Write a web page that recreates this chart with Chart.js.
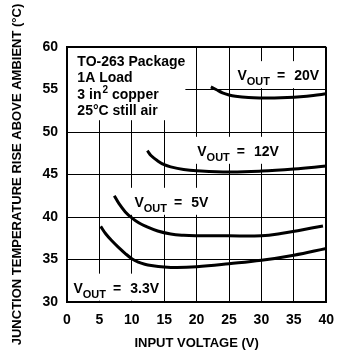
<!DOCTYPE html>
<html>
<head>
<meta charset="utf-8">
<script src="https://cdn.jsdelivr.net/npm/chart.js@4.4.0/dist/chart.umd.min.js"></script>
<style>
  body { margin: 0; background: #fff; }
  #wrap { width: 344px; height: 355px; }
</style>
</head>
<body>
<div id="wrap"><canvas id="tempChart"></canvas></div>
<script>
// temperature rise vs input voltage, one curve per output voltage
const vin20 = [22.2, 23, 24, 25, 26, 28, 30, 32, 34, 36, 38, 40];
const temp20 = [55.3, 55.0, 54.6, 54.35, 54.2, 54.05, 54.0, 54.0, 54.05, 54.15, 54.3, 54.5];

const vin12 = [12.4, 13, 14, 15, 16, 18, 20, 25, 30, 35, 40];
const temp12 = [47.8, 47.2, 46.6, 46.15, 45.9, 45.6, 45.45, 45.3, 45.4, 45.65, 46.0];

const vin5 = [7.3, 8, 9, 10, 11, 12, 14, 16, 18, 20, 25, 30, 33, 36, 39.5];
const temp5 = [42.5, 41.6, 40.6, 39.9, 39.35, 38.95, 38.35, 38.0, 37.85, 37.8, 37.78, 37.8, 38.05, 38.45, 38.95];

const vin33 = [5.2, 6, 7, 8, 9, 10, 11, 12, 13, 15, 17, 20, 25, 30, 35, 40];
const temp33 = [38.9, 38.0, 37.15, 36.4, 35.7, 35.1, 34.7, 34.45, 34.3, 34.12, 34.05, 34.15, 34.5, 34.9, 35.5, 36.3];

const xTicks = [0, 5, 10, 15, 20, 25, 30, 35, 40];
const yTicks = [30, 35, 40, 45, 50, 55, 60];

// curve labels: [vin, temp] of the text baseline start
const curveLabels = [
    { value: '20V', at: [26.3, 56.1] },
    { value: '12V', at: [20.1, 47.2] },
    { value: '5V', at: [10.4, 41.2] },
    { value: '3.3V', at: [1.0, 31.1] }
];
const noteLines = ['TO-263 Package', '1A Load', '3 in\u00b2 copper', '25\u00b0C still air'];
const noteAt = [1.6, 57.8];

const FONT = '"Liberation Sans", Arial, sans-serif';

function pts(xs, ys) {
    return xs.map(function (x, i) { return { x: x, y: ys[i] }; });
}

function curve(xs, ys) {
    return {
        data: pts(xs, ys),
        borderColor: '#000',
        borderWidth: 3,
        pointRadius: 0,
        tension: 0.4,
        fill: false
    };
}

// white boxes behind the labels hide the grid, then the text is written
const labelPlugin = {
    id: 'curveLabels',
    beforeDatasetsDraw: function (chart) {
        const ctx = chart.ctx;
        const xs = chart.scales.x, ys = chart.scales.y;
        const area = chart.chartArea;

        function box(l, t, r, b) {
            l = Math.max(l, area.left + 1);
            t = Math.max(t, area.top + 1);
            r = Math.min(r, area.right - 1);
            b = Math.min(b, area.bottom - 1);
            ctx.fillStyle = '#fff';
            ctx.fillRect(l, t, r - l, b - t);
        }

        ctx.save();
        ctx.textBaseline = 'alphabetic';
        ctx.textAlign = 'left';

        // note block in the upper left corner
        const nx = xs.getPixelForValue(noteAt[0]);
        const ny = ys.getPixelForValue(noteAt[1]);
        box(area.left, area.top, nx + 108, ny + 3 * 16.5 + 5);
        ctx.fillStyle = '#000';
        noteLines.forEach(function (line, i) {
            const y = ny + i * 16.5;
            if (line.indexOf('\u00b2') >= 0) {
                // superscript 2 in "in2"
                const parts = line.split('\u00b2');
                ctx.font = 'bold 14px ' + FONT;
                ctx.fillText(parts[0], nx, y);
                let cx = nx + ctx.measureText(parts[0]).width;
                ctx.font = 'bold 10px ' + FONT;
                ctx.fillText('2', cx + 1, y - 6);
                cx += ctx.measureText('2').width + 1;
                ctx.font = 'bold 14px ' + FONT;
                ctx.fillText(parts[1], cx, y);
            } else {
                ctx.font = 'bold 14px ' + FONT;
                ctx.fillText(line, nx, y);
            }
        });

        curveLabels.forEach(function (lab) {
            const x0 = xs.getPixelForValue(lab.at[0]);
            const y0 = ys.getPixelForValue(lab.at[1]);
            ctx.font = 'bold 14px ' + FONT;
            const wV = ctx.measureText('V').width;
            const wEq = ctx.measureText('=').width;
            const wVal = ctx.measureText(lab.value).width;
            ctx.font = 'bold 11px ' + FONT;
            const wOut = ctx.measureText('OUT').width;
            const total = wV + wOut + 7 + wEq + 9 + wVal;

            box(x0 - 4, y0 - 19, x0 + total + 5, y0 + 8);

            ctx.fillStyle = '#000';
            let cx = x0;
            ctx.font = 'bold 14px ' + FONT;
            ctx.fillText('V', cx, y0);
            cx += wV;
            ctx.font = 'bold 11px ' + FONT;
            ctx.fillText('OUT', cx, y0 + 5);
            cx += wOut + 7;
            ctx.font = 'bold 14px ' + FONT;
            ctx.fillText('=', cx, y0);
            cx += wEq + 9;
            ctx.fillText(lab.value, cx, y0);
        });
        ctx.restore();
    }
};

const ctx = document.getElementById('tempChart').getContext('2d');
new Chart(ctx, {
    type: 'line',
    data: {
        datasets: [
            curve(vin20, temp20),
            curve(vin12, temp12),
            curve(vin5, temp5),
            curve(vin33, temp33)
        ]
    },
    options: {
        responsive: true,
        maintainAspectRatio: false,
        animation: false,
        layout: { padding: { top: 47, right: 9, bottom: 0, left: 0 } },
        plugins: {
            legend: { display: false },
            tooltip: { enabled: false }
        },
        scales: {
            x: {
                type: 'linear',
                min: 0,
                max: 40,
                afterBuildTicks: function (scale) {
                    scale.ticks = xTicks.map(function (v) { return { value: v }; });
                },
                afterFit: function (scale) { scale.height = 53; },
                grid: {
                    color: '#000',
                    lineWidth: function (c) { return c.tick && c.tick.value === 40 ? 2 : 1; },
                    drawTicks: false
                },
                border: { display: true, color: '#000', width: 2 },
                ticks: {
                    color: '#000',
                    padding: 10,
                    font: { family: FONT, size: 14, weight: 'bold' }
                },
                title: {
                    display: true,
                    text: 'INPUT VOLTAGE (V)',
                    color: '#000',
                    padding: { top: 0, bottom: 4 },
                    font: { family: FONT, size: 13, weight: 'bold' }
                }
            },
            y: {
                type: 'linear',
                min: 30,
                max: 60,
                afterBuildTicks: function (scale) {
                    scale.ticks = yTicks.map(function (v) { return { value: v }; });
                },
                afterFit: function (scale) { scale.width = 67; },
                grid: {
                    color: '#000',
                    lineWidth: function (c) { return c.tick && c.tick.value === 60 ? 2 : 1; },
                    drawTicks: false
                },
                border: { display: true, color: '#000', width: 2 },
                ticks: {
                    color: '#000',
                    padding: 9,
                    font: { family: FONT, size: 14, weight: 'bold' }
                },
                title: {
                    display: true,
                    text: 'JUNCTION TEMPERATURE RISE ABOVE AMBIENT (\u00b0C)',
                    color: '#000',
                    padding: { top: 10, bottom: 0 },
                    font: { family: FONT, size: 13, weight: 'bold' }
                }
            }
        }
    },
    plugins: [labelPlugin]
});
</script>
</body>
</html>
